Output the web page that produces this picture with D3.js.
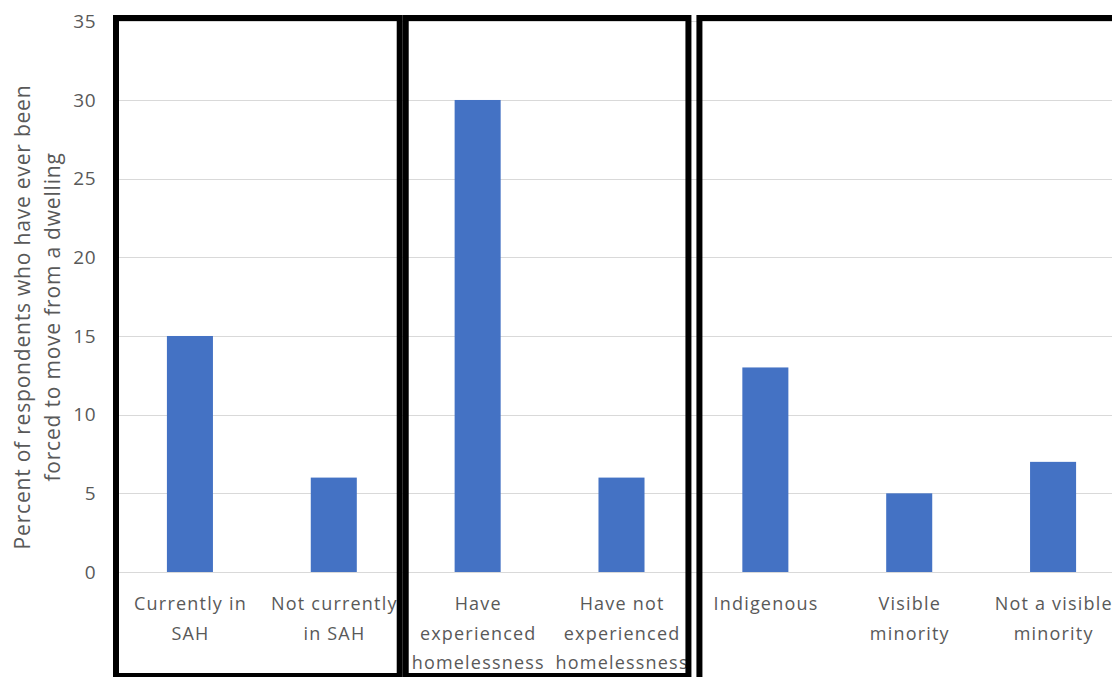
<!DOCTYPE html>
<html>
<head>
<meta charset="utf-8">
<script src="https://cdn.jsdelivr.net/npm/d3@7"></script>
<style>
  html, body { margin: 0; padding: 0; background: #fff; }
  svg { display: block; }
  text { font-family: "Open Sans", Lato, sans-serif; fill: #595959; }
</style>
</head>
<body>
<svg id="chart" width="1112" height="677"></svg>
<script>
// Share of respondents ever forced to move from a dwelling, by group
const categories = [
  ["Currently in", "SAH"],
  ["Not currently", "in SAH"],
  ["Have", "experienced", "homelessness"],
  ["Have not", "experienced", "homelessness"],
  ["Indigenous"],
  ["Visible", "minority"],
  ["Not a visible", "minority"]
];
const values = [15, 6, 30, 6, 13, 5, 7];
const yTicks = [0, 5, 10, 15, 20, 25, 30, 35];
const yTitle = ["Percent of respondents who have ever been", "forced to move from a dwelling"];
// comparison groups: [first category index, last category index]
const groups = [[0, 1], [2, 3], [4, 6]];

const W = 1112, H = 677;
const svg = d3.select("#chart");

const x = d3.scaleBand()
  .domain(d3.range(values.length))
  .range([118, 1125])
  .padding(0);

const y = d3.scaleLinear()
  .domain([0, 35])
  .range([572, 21.3]);

const barW = x.bandwidth() * 0.32;

// horizontal gridlines
svg.append("g")
  .selectAll("line")
  .data(yTicks)
  .join("line")
  .attr("x1", 118)
  .attr("x2", W)
  .attr("y1", d => Math.round(y(d)) + 0.5)
  .attr("y2", d => Math.round(y(d)) + 0.5)
  .attr("stroke", "#d9d9d9")
  .attr("stroke-width", 1);

// y axis tick labels
const yAxis = d3.axisLeft(y).tickValues(yTicks).tickSize(0).tickPadding(0);
const yg = svg.append("g")
  .attr("transform", "translate(96,0)")
  .call(yAxis);
yg.select(".domain").remove();
yg.selectAll("text")
  .style("font-family", "'Open Sans', Lato, sans-serif")
  .style("font-size", "19px")
  .style("letter-spacing", "0.5px")
  .attr("fill", "#595959");

// bars
svg.append("g")
  .selectAll("rect")
  .data(values)
  .join("rect")
  .attr("x", (d, i) => x(i) + x.bandwidth() / 2 - barW / 2)
  .attr("width", barW)
  .attr("y", d => y(d))
  .attr("height", d => y(0) - y(d))
  .attr("fill", "#4472c4");

// category labels
const lab = svg.append("g")
  .selectAll("text")
  .data(categories)
  .join("text")
  .attr("x", (d, i) => x(i) + x.bandwidth() / 2 + 0.6)
  .attr("y", 603)
  .attr("text-anchor", "middle")
  .attr("dominant-baseline", "central")
  .style("font-size", "18px")
  .style("letter-spacing", "1.2px");
lab.selectAll("tspan")
  .data(d => d)
  .join("tspan")
  .attr("x", function () { return this.parentNode.getAttribute("x"); })
  .attr("dy", (d, i) => i === 0 ? 0 : 29.5)
  .text(d => d);

// y axis title
const t = svg.append("text")
  .attr("transform", "translate(0,317) rotate(-90)")
  .attr("text-anchor", "middle")
  .attr("dominant-baseline", "central")
  .style("font-size", "21px")
  .style("letter-spacing", "0.8px");
t.selectAll("tspan")
  .data(yTitle)
  .join("tspan")
  .attr("x", 0)
  .attr("y", (d, i) => 22 + i * 30)
  .text(d => d);

// group outlines
const insetL = [-2, 0, 6];
const insetR = [-6, -5, 0];
svg.append("g")
  .selectAll("rect")
  .data(groups)
  .join("rect")
  .attr("x", (g, k) => x(g[0]) + insetL[k])
  .attr("y", 18)
  .attr("width", (g, k) => (x(g[1]) + x.bandwidth() + insetR[k]) - (x(g[0]) + insetL[k]))
  .attr("height", (g, k) => k === 2 ? 700 : 658)
  .attr("fill", "none")
  .attr("stroke", "#000")
  .attr("stroke-width", 6);
</script>
</body>
</html>
